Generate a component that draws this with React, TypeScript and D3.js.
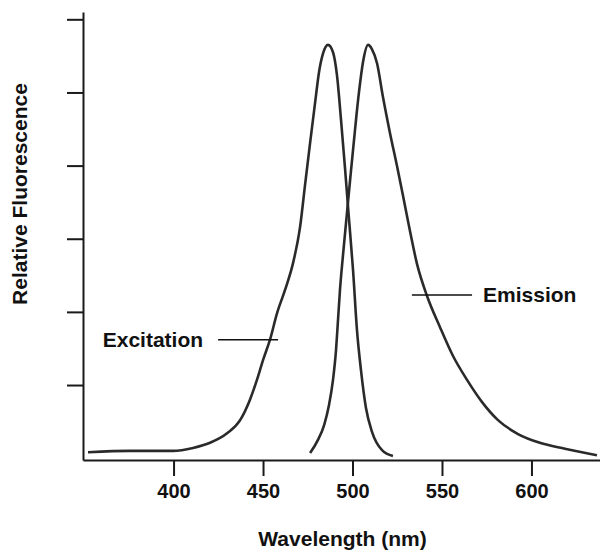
import { useEffect, useRef } from 'react';
import * as d3 from 'd3';

// spectra (wavelength nm, relative units)
const excitation: [number, number][] = [
  [352.2, 0.08], [375.7, 0.1], [399.7, 0.1], [410.9, 0.14], [420.4, 0.21],
  [429.9, 0.34], [437.2, 0.52], [442.7, 0.8], [446.6, 1.07], [450.0, 1.34],
  [453.9, 1.62], [457.8, 1.98], [462.3, 2.3], [466.8, 2.67], [470.7, 3.16],
  [473.5, 3.74], [476.3, 4.31], [479.1, 4.86], [481.3, 5.28], [483.5, 5.53],
  [486.3, 5.65], [489.1, 5.55], [491.3, 5.24], [493.6, 4.62], [495.8, 3.97],
  [498.0, 3.28], [500.3, 2.57], [502.5, 1.75], [504.7, 1.21], [507.5, 0.69],
  [510.9, 0.36], [516.5, 0.11], [522.6, 0.03],
];

const emission: [number, number][] = [
  [476.3, 0.07], [480.7, 0.25], [484.1, 0.45], [486.9, 0.73], [489.1, 1.07],
  [490.8, 1.48], [491.9, 1.89], [493.0, 2.3], [494.7, 2.78], [496.9, 3.35],
  [499.2, 3.94], [501.4, 4.49], [503.6, 5.0], [505.9, 5.42], [508.7, 5.65],
  [510.9, 5.59], [513.7, 5.4], [517.0, 4.94], [520.9, 4.45], [524.9, 3.99],
  [528.2, 3.59], [531.5, 3.18], [536.0, 2.66], [541.6, 2.22], [548.9, 1.79],
  [556.1, 1.4], [564.0, 1.07], [572.3, 0.77], [581.3, 0.52], [592.5, 0.33],
  [604.7, 0.21], [618.7, 0.13], [636.6, 0.04],
];

const xTicks = [400, 450, 500, 550, 600];
const yTicks = [1, 2, 3, 4, 5, 6];

const labels = [
  { text: 'Excitation', x1: 424.9, x2: 458.4, y: 1.62, anchor: 'end' },
  { text: 'Emission', x1: 533.2, x2: 566.8, y: 2.23, anchor: 'start' },
];

const App = () => {
  const svgRef = useRef<SVGSVGElement>(null);

  useEffect(() => {
    document.body.style.margin = '0';
    const width = 600;
    const height = 552;

    const svg = d3.select(svgRef.current)
      .attr('width', width)
      .attr('height', height);
    svg.selectAll('*').remove();

    const font = '"Liberation Sans", Arial, sans-serif';

    const x = d3.scaleLinear().domain([349.4, 638.3]).range([83, 600]);
    const y = d3.scaleLinear().domain([-0.025, 6.1]).range([460, 12]);

    const defs = svg.append('defs');
    defs.append('filter')
      .attr('id', 'soft')
      .append('feGaussianBlur')
      .attr('stdDeviation', 0.6);

    // axes
    const xAxis = svg.append('g')
      .attr('transform', `translate(0, ${y(-0.025)})`)
      .call(d3.axisBottom(x).tickValues(xTicks).tickSize(16).tickSizeOuter(0).tickPadding(8));
    const yAxis = svg.append('g')
      .attr('transform', `translate(${x(349.4)}, 0)`)
      .call(d3.axisLeft(y).tickValues(yTicks).tickSize(16).tickSizeOuter(0).tickFormat(() => ''));

    [xAxis, yAxis].forEach(g => {
      g.select('.domain').attr('stroke', '#1a1a1a').attr('stroke-width', 2);
      g.selectAll('.tick line').attr('stroke', '#1a1a1a').attr('stroke-width', 2);
    });
    xAxis.selectAll('.tick text')
      .attr('font-family', font)
      .attr('font-weight', 'bold')
      .attr('font-size', 20)
      .attr('fill', '#111');

    // curves
    const line = d3.line<[number, number]>()
      .x(d => x(d[0]))
      .y(d => y(d[1]))
      .curve(d3.curveMonotoneX);

    [excitation, emission].forEach(series => {
      svg.append('path')
        .datum(series)
        .attr('d', line)
        .attr('fill', 'none')
        .attr('stroke', '#2b2b2b')
        .attr('stroke-width', 2.6)
        .attr('filter', 'url(#soft)');
    });

    // curve labels with leader lines
    labels.forEach(l => {
      svg.append('line')
        .attr('x1', x(l.x1)).attr('x2', x(l.x2))
        .attr('y1', y(l.y)).attr('y2', y(l.y))
        .attr('stroke', '#111')
        .attr('stroke-width', 1.6);
      svg.append('text')
        .attr('x', l.anchor === 'end' ? x(l.x1) - 15 : x(l.x2) + 11)
        .attr('y', y(l.y) + 7)
        .attr('text-anchor', l.anchor)
        .attr('font-family', font)
        .attr('font-weight', 'bold')
        .attr('font-size', 21)
        .attr('fill', '#111')
        .text(l.text);
    });

    // axis titles
    svg.append('text')
      .attr('x', (x(349.4) + x(638.3)) / 2 + 1)
      .attr('y', 546)
      .attr('text-anchor', 'middle')
      .attr('font-family', font)
      .attr('font-weight', 'bold')
      .attr('font-size', 21)
      .attr('fill', '#111')
      .text('Wavelength (nm)');

    svg.append('text')
      .attr('transform', `translate(27, ${(y(6.1) + y(-0.025)) / 2 - 42}) rotate(-90)`)
      .attr('text-anchor', 'middle')
      .attr('font-family', font)
      .attr('font-weight', 'bold')
      .attr('font-size', 21)
      .attr('fill', '#111')
      .text('Relative Fluorescence');
  }, []);

  return <svg ref={svgRef} style={{ display: 'block' }}></svg>;
};

export default App;
